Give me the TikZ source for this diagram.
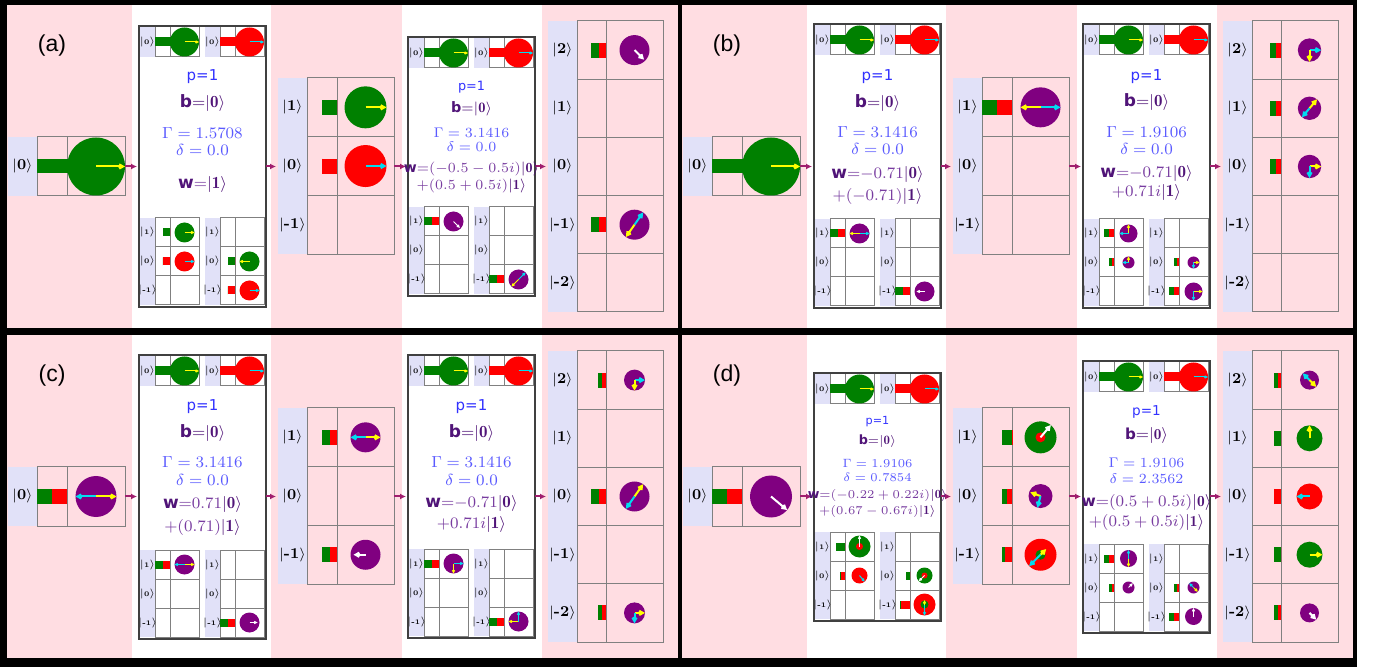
\documentclass[tikz,border=0pt]{standalone}
\usepackage{fontspec}
\setsansfont{DejaVu Sans}
\newfontfamily\panelfont{Liberation Sans}
\usetikzlibrary{arrows.meta}

\definecolor{bgpink}{RGB}{255,221,226}
\definecolor{lavfill}{RGB}{225,225,248}
\definecolor{cellgray}{RGB}{128,128,128}
\definecolor{qgreen}{RGB}{0,128,0}
\definecolor{qred}{RGB}{255,0,0}
\definecolor{qpur}{RGB}{128,0,128}
\definecolor{qyel}{RGB}{255,255,0}
\definecolor{qcya}{RGB}{0,220,240}
\definecolor{flowc}{RGB}{160,30,110}
\definecolor{pblue}{RGB}{50,50,255}
\definecolor{gblue}{RGB}{90,90,255}
\definecolor{qind}{RGB}{80,20,120}
\definecolor{wpur}{RGB}{120,60,160}

\newcommand{\minifont}{\fontsize{3.5}{4}\selectfont}
\newcommand{\bigfont}{\fontsize{7.5}{9}\selectfont}
\newcommand{\bsym}{{\sffamily\bfseries b}}
\newcommand{\wsym}{{\color{qind}\sffamily\bfseries w}}
\newcommand{\ketb}[1]{{\color{qind}|\mathbf{#1}\rangle}}

\tikzset{
  cellline/.style={draw=cellgray, line width=0.5pt},
  opframe/.style={draw=black!75, line width=1pt},
  flow/.style={-{Latex[length=3pt,width=3pt]}, draw=flowc, line width=1pt, shorten >=1pt},
  bneedle/.style={line width=1pt, -{Kite[length=3.5pt,width=3pt]}},
  mneedle/.style={line width=0.5pt, -{Kite[length=2pt,width=1.6pt]}},
  ptxt/.style={font={\fontsize{#1}{#1}\selectfont\sffamily}, text=pblue, inner sep=0pt},
  btxt/.style={font={\fontsize{#1}{#1}\selectfont}, text=qind, inner sep=0pt},
  gtxt/.style={font={\fontsize{#1}{#1}\selectfont}, text=gblue, inner sep=0pt},
  wtxt/.style={font={\fontsize{#1}{#1}\selectfont}, text=wpur, inner sep=0pt},
}

% x, y top, label w, cell w, cell w, row h, labels, font, name
\newcommand{\qtab}[9]{%
  \foreach \lab [count=\k] in {#7} {
    \fill[lavfill] (#1,{#2+(\k-1)*#6}) rectangle ++(#3,#6);
    \draw[cellline] ({#1+#3},{#2+(\k-1)*#6}) rectangle ++(#4,#6);
    \draw[cellline] ({#1+#3+#4},{#2+(\k-1)*#6}) rectangle ++(#5,#6);
    \node[font=#8, inner sep=0pt] (#9-l\k) at ({#1+#3/2},{#2+(\k-0.5)*#6}) {$|\textbf{\lab}\rangle$};
    \coordinate (#9-\k) at ({#1+#3+#4+#5/2},{#2+(\k-0.5)*#6});
  }}

% centre, half cell, green w, red w, bar h, disc r, disc colour
\newcommand{\qcell}[7]{%
  \fill[qgreen] (#1) ++({-#2-#3-#4},{-#5/2}) rectangle ++(#3,#5);
  \fill[qred] (#1) ++({-#2-#4},{-#5/2}) rectangle ++(#4,#5);
  \fill[#7] (#1) circle[radius=#6];}

\newcommand{\qneedles}[4]{%
  \foreach \ang/\len/\col in {#3} {\draw[#4,\col] (#1) -- ++({0-(\ang)}:{\len*#2});}}

\newcommand{\qop}[4]{%
  \fill[white] (#2,#3) rectangle ({#2+127},#4);
  \qtab{#2+1}{#3+1}{15}{15}{29}{30}{0}{\minifont}{#1-TL}
  \qtab{#2+66}{#3+1}{15}{15}{29}{30}{0}{\minifont}{#1-TR}
  \qcell{#1-TL-1}{0}{29.5}{0}{9}{14.5}{qgreen}
  \qneedles{#1-TL-1}{14.5}{0/1/qyel}{mneedle}
  \qcell{#1-TR-1}{0}{0}{29.5}{9}{14.5}{qred}
  \qneedles{#1-TR-1}{14.5}{0/1/qcya}{mneedle}
  \qtab{#2+1}{#4-89}{15}{15}{29}{29}{1,0,-1}{\minifont}{#1-L}
  \qtab{#2+66}{#4-89}{15}{15}{29}{29}{1,0,-1}{\minifont}{#1-R}
  \draw[opframe] (#2,#3) rectangle ({#2+127},#4);
  \coordinate (#1-w) at (#2,166.5);
  \coordinate (#1-e) at ({#2+127},166.5);}

\newcommand{\qpanel}[6]{%
  \fill[bgpink] (7,5) rectangle (132,328);
  \fill[white] (132,5) rectangle (271,328);
  \fill[bgpink] (271,5) rectangle (402,328);
  \fill[white] (402,5) rectangle (542,328);
  \fill[bgpink] (542,5) rectangle (678,328);
  \node[font=\panelfont\fontsize{11.5}{12}\selectfont, inner sep=0pt] (#1-tag) at (52,46) {#2};
  \qtab{8}{137}{29}{30}{58}{59}{0}{\bigfont}{#1-in}
  \qop{#1-o1}{139}{#3}{#4}
  \qtab{278}{78}{29}{30}{57}{58.7}{1,0,-1}{\bigfont}{#1-mid}
  \qop{#1-o2}{408}{#5}{#6}
  \qtab{548}{21}{29}{29}{57}{58.2}{2,1,0,-1,-2}{\bigfont}{#1-out}
  \coordinate (#1-in-e) at (125,166.5);
  \coordinate (#1-mid-w) at (278,166.5);
  \coordinate (#1-mid-e) at (394,166.5);
  \coordinate (#1-out-w) at (548,166.5);
  \draw[flow] (#1-in-e) -- (#1-o1-w);
  \draw[flow] (#1-o1-e) -- (#1-mid-w);
  \draw[flow] (#1-mid-e) -- (#1-o2-w);
  \draw[flow] (#1-o2-e) -- (#1-out-w);}

\begin{document}
\begin{tikzpicture}[x=0.5pt,y=-0.5pt]
  \useasboundingbox (0,0) rectangle (1380,667);
  \fill[white] (0,0) rectangle (1380,667);
  \fill[black] (0,0) rectangle (1357,667);

  % (a)
  \qpanel{a}{(a)}{26}{307}{37}{296}
  \qcell{a-in-1}{0}{59}{0}{14}{29}{qgreen}
  \qneedles{a-in-1}{29}{0/1/qyel}{bneedle}
  \qcell{a-o1-L-1}{14.5}{7.5}{0}{8}{10}{qgreen}
  \qneedles{a-o1-L-1}{10}{0/1/qyel}{mneedle}
  \qcell{a-o1-L-2}{14.5}{0}{7.5}{8}{10}{qred}
  \qneedles{a-o1-L-2}{10}{0/1/qcya}{mneedle}
  \qcell{a-o1-R-2}{14.5}{7.5}{0}{8}{10}{qgreen}
  \qneedles{a-o1-R-2}{10}{180/1/qyel}{mneedle}
  \qcell{a-o1-R-3}{14.5}{0}{7.5}{8}{10}{qred}
  \qneedles{a-o1-R-3}{10}{0/1/qcya}{mneedle}
  \qcell{a-mid-1}{28.5}{15}{0}{15}{21}{qgreen}
  \qneedles{a-mid-1}{21}{0/1/qyel}{bneedle}
  \qcell{a-mid-2}{28.5}{0}{15}{15}{21}{qred}
  \qneedles{a-mid-2}{21}{0/1/qcya}{bneedle}
  \qcell{a-o2-L-1}{14.5}{7.5}{7.5}{8}{10}{qpur}
  \qneedles{a-o2-L-1}{10}{-45/0.9/white}{mneedle}
  \qcell{a-o2-R-3}{14.5}{7.5}{7.5}{8}{10}{qpur}
  \qneedles{a-o2-R-3}{10}{45/1/qcya,225/1/qyel}{mneedle}
  \qcell{a-out-1}{28.5}{7.5}{7.5}{15}{15}{qpur}
  \qneedles{a-out-1}{15}{-45/0.9/white}{bneedle}
  \qcell{a-out-4}{28.5}{7.5}{7.5}{15}{15}{qpur}
  \qneedles{a-out-4}{15}{55/1/qcya,235/1/qyel}{bneedle}
  \node[ptxt=7.5] (a-p1) at (202.5,77) {p=1};
  \node[btxt=8.5] (a-b1) at (202.5,103) {\bsym${=}|\mathbf{0}\rangle$};
  \node[gtxt=8.2] (a-g1) at (202.5,133) {$\Gamma = 1.5708$};
  \node[gtxt=8.2] (a-d1) at (202.5,150) {$\delta = 0.0$};
  \node[wtxt=8.5] (a-w1) at (202.5,185) {\wsym${=}\ketb{1}$};
  \node[ptxt=6.4] (a-p2) at (471.5,87) {p=1};
  \node[btxt=7.2] (a-b2) at (471.5,109) {\bsym${=}|\mathbf{0}\rangle$};
  \node[gtxt=7] (a-g2) at (471.5,133) {$\Gamma = 3.1416$};
  \node[gtxt=7] (a-d2) at (471.5,147) {$\delta = 0.0$};
  \node[wtxt=7] (a-w2) at (471.5,169) {\wsym${=}(-0.5-0.5i)\ketb{0}$};
  \node[wtxt=7] (a-v2) at (471.5,186) {$+(0.5+0.5i)\ketb{1}$};

  % (b)
  \begin{scope}[shift={(675,0)}]
  \qpanel{b}{(b)}{24}{308}{24}{308}
  \qcell{b-in-1}{0}{59}{0}{14}{29}{qgreen}
  \qneedles{b-in-1}{29}{0/1/qyel}{bneedle}
  \qcell{b-o1-L-1}{14.5}{7.5}{7.5}{8}{10}{qpur}
  \qneedles{b-o1-L-1}{10}{180/1/qyel,0/1/qcya}{mneedle}
  \qcell{b-o1-R-3}{14.5}{7.5}{7.5}{8}{10}{qpur}
  \qneedles{b-o1-R-3}{10}{180/0.8/white}{mneedle}
  \qcell{b-mid-1}{28.5}{15}{15}{15}{20}{qpur}
  \qneedles{b-mid-1}{20}{180/1/qyel,0/1/qcya}{bneedle}
  \qcell{b-o2-L-1}{14.5}{5}{5}{8}{9}{qpur}
  \qneedles{b-o2-L-1}{9}{90/1/qyel,180/1/qcya}{mneedle}
  \qcell{b-o2-L-2}{14.5}{2.5}{2.5}{8}{6}{qpur}
  \qneedles{b-o2-L-2}{6}{90/1/qyel,180/1/qcya}{mneedle}
  \qcell{b-o2-R-2}{14.5}{2.5}{2.5}{8}{6}{qpur}
  \qneedles{b-o2-R-2}{6}{0/1/qyel,270/1/qcya}{mneedle}
  \qcell{b-o2-R-3}{14.5}{5}{5}{8}{9}{qpur}
  \qneedles{b-o2-R-3}{9}{0/1/qyel,270/1/qcya}{mneedle}
  \qcell{b-out-1}{28.5}{5.5}{5.5}{15}{11.7}{qpur}
  \qneedles{b-out-1}{11.7}{0/1/qcya,270/1/qyel}{bneedle}
  \qcell{b-out-2}{28.5}{5.5}{5.5}{15}{11.7}{qpur}
  \qneedles{b-out-2}{11.7}{50/1/qyel,230/1/qcya}{bneedle}
  \qcell{b-out-3}{28.5}{5.5}{5.5}{15}{11.7}{qpur}
  \qneedles{b-out-3}{11.7}{0/1/qyel,270/1/qcya}{bneedle}
  \node[ptxt=7.5] (b-p1) at (202.5,77) {p=1};
  \node[btxt=8.5] (b-b1) at (202.5,103) {\bsym${=}|\mathbf{0}\rangle$};
  \node[gtxt=8.2] (b-g1) at (202.5,132) {$\Gamma = 3.1416$};
  \node[gtxt=8.2] (b-d1) at (202.5,149) {$\delta = 0.0$};
  \node[wtxt=8.5] (b-w1) at (202.5,175) {\wsym${=}{-0.71}\ketb{0}$};
  \node[wtxt=8.5] (b-v1) at (202.5,197) {$+(-0.71)\ketb{1}$};
  \node[ptxt=7.5] (b-p2) at (471.5,77) {p=1};
  \node[btxt=8.5] (b-b2) at (471.5,102) {\bsym${=}|\mathbf{0}\rangle$};
  \node[gtxt=8.2] (b-g2) at (471.5,132) {$\Gamma = 1.9106$};
  \node[gtxt=8.2] (b-d2) at (471.5,149) {$\delta = 0.0$};
  \node[wtxt=8.5] (b-w2) at (471.5,174) {\wsym${=}{-0.71}\ketb{0}$};
  \node[wtxt=8.5] (b-v2) at (471.5,193) {$+0.71i\ketb{1}$};
  \end{scope}

  % (c)
  \begin{scope}[shift={(0,330)}]
  \qpanel{c}{(c)}{25}{309}{25}{308}
  \qcell{c-in-1}{29}{15}{15}{14}{20.5}{qpur}
  \qneedles{c-in-1}{20.5}{180/1/qcya,0/1/qyel}{bneedle}
  \qcell{c-o1-L-1}{14.5}{7.5}{7.5}{8}{10}{qpur}
  \qneedles{c-o1-L-1}{10}{180/1/qcya,0/1/qyel}{mneedle}
  \qcell{c-o1-R-3}{14.5}{7.5}{7.5}{8}{10}{qpur}
  \qneedles{c-o1-R-3}{10}{0/0.8/white}{mneedle}
  \qcell{c-mid-1}{28.5}{7.5}{7.5}{15}{15}{qpur}
  \qneedles{c-mid-1}{15}{180/1/qcya,0/1/qyel}{bneedle}
  \qcell{c-mid-3}{28.5}{7.5}{7.5}{15}{15}{qpur}
  \qneedles{c-mid-3}{15}{180/0.8/white}{bneedle}
  \qcell{c-o2-L-1}{14.5}{7.5}{7.5}{8}{10}{qpur}
  \qneedles{c-o2-L-1}{10}{0/1/qcya,270/1/qyel}{mneedle}
  \qcell{c-o2-R-3}{14.5}{7.5}{7.5}{8}{10}{qpur}
  \qneedles{c-o2-R-3}{10}{180/1/qyel,90/1/qcya}{mneedle}
  \qcell{c-out-1}{28.5}{4}{4}{15}{10.5}{qpur}
  \qneedles{c-out-1}{10.5}{0/1/qcya,270/1/qyel}{bneedle}
  \qcell{c-out-3}{28.5}{7.5}{7.5}{15}{15}{qpur}
  \qneedles{c-out-3}{15}{55/1/qyel,235/1/qcya}{bneedle}
  \qcell{c-out-5}{28.5}{4}{4}{15}{10.5}{qpur}
  \qneedles{c-out-5}{10.5}{0/1/qyel,270/1/qcya}{bneedle}
  \node[ptxt=7.5] (c-p1) at (202.5,77) {p=1};
  \node[btxt=8.5] (c-b1) at (202.5,103) {\bsym${=}|\mathbf{0}\rangle$};
  \node[gtxt=8.2] (c-g1) at (202.5,132) {$\Gamma = 3.1416$};
  \node[gtxt=8.2] (c-d1) at (202.5,150) {$\delta = 0.0$};
  \node[wtxt=8.5] (c-w1) at (202.5,175) {\wsym${=}0.71\ketb{0}$};
  \node[wtxt=8.5] (c-v1) at (202.5,197) {$+(0.71)\ketb{1}$};
  \node[ptxt=7.5] (c-p2) at (471.5,77) {p=1};
  \node[btxt=8.5] (c-b2) at (471.5,103) {\bsym${=}|\mathbf{0}\rangle$};
  \node[gtxt=8.2] (c-g2) at (471.5,132) {$\Gamma = 3.1416$};
  \node[gtxt=8.2] (c-d2) at (471.5,150) {$\delta = 0.0$};
  \node[wtxt=8.5] (c-w2) at (471.5,174) {\wsym${=}{-0.71}\ketb{0}$};
  \node[wtxt=8.5] (c-v2) at (471.5,194) {$+0.71i\ketb{1}$};
  \end{scope}

  % (d)
  \begin{scope}[shift={(675,330)}]
  \qpanel{d}{(d)}{43}{291}{31}{303}
  \qcell{d-in-1}{29}{15}{15}{14}{21}{qpur}
  \qneedles{d-in-1}{21}{-40/1/white}{bneedle}
  \qcell{d-o1-L-1}{14.5}{9}{0}{8}{11}{qgreen}
  \fill[qred] (d-o1-L-1) circle[radius=3.5];
  \qneedles{d-o1-L-1}{11}{90/1/white}{mneedle}
  \qcell{d-o1-L-2}{14.5}{1}{4}{8}{8}{qred}
  \qneedles{d-o1-L-2}{8}{-50/1/qcya}{mneedle}
  \qcell{d-o1-R-2}{14.5}{4.5}{0}{8}{8}{qgreen}
  \fill[qred] (d-o1-R-2) circle[radius=3];
  \qneedles{d-o1-R-2}{8}{225/1/white}{mneedle}
  \qcell{d-o1-R-3}{14.5}{1}{9}{8}{11}{qred}
  \fill[qgreen] (d-o1-R-3) circle[radius=4];
  \qneedles{d-o1-R-3}{11}{270/1/qcya,90/0.4/qyel}{mneedle}
  \qcell{d-mid-1}{28.5}{9.5}{0.5}{15}{16}{qgreen}
  \fill[qred] (d-mid-1) circle[radius=5];
  \qneedles{d-mid-1}{16}{50/1/white}{bneedle}
  \qcell{d-mid-2}{28.5}{5}{5}{15}{12}{qpur}
  \qneedles{d-mid-2}{12}{160/0.9/qyel,255/1/qcya}{bneedle}
  \qcell{d-mid-3}{28.5}{3}{7}{15}{16}{qred}
  \fill[qgreen] (d-mid-3) circle[radius=5];
  \qneedles{d-mid-3}{16}{45/0.5/qyel,225/1/qcya}{bneedle}
  \qcell{d-o2-L-1}{14.5}{5}{5}{8}{8.5}{qpur}
  \qneedles{d-o2-L-1}{8.5}{90/1/qcya,270/1/qyel}{mneedle}
  \qcell{d-o2-L-2}{14.5}{2.5}{2.5}{8}{6}{qpur}
  \qneedles{d-o2-L-2}{6}{45/1/white}{mneedle}
  \qcell{d-o2-R-2}{14.5}{2.5}{2.5}{8}{6}{qpur}
  \qneedles{d-o2-R-2}{6}{135/1/qcya,-45/1/qyel}{mneedle}
  \qcell{d-o2-R-3}{14.5}{5}{5}{8}{8.5}{qpur}
  \qneedles{d-o2-R-3}{8.5}{90/1/white}{mneedle}
  \qcell{d-out-1}{28.5}{3.5}{3.5}{15}{9.5}{qpur}
  \qneedles{d-out-1}{9.5}{135/1/qcya,-45/1/qyel}{bneedle}
  \qcell{d-out-2}{28.5}{7}{0}{15}{13}{qgreen}
  \qneedles{d-out-2}{13}{90/1/qyel}{bneedle}
  \qcell{d-out-3}{28.5}{0}{7}{15}{13}{qred}
  \qneedles{d-out-3}{13}{180/1/qcya}{bneedle}
  \qcell{d-out-4}{28.5}{7}{0}{15}{13}{qgreen}
  \qneedles{d-out-4}{13}{0/1/qyel}{bneedle}
  \qcell{d-out-5}{28.5}{3.5}{3.5}{15}{9.5}{qpur}
  \qneedles{d-out-5}{9.5}{-45/1/white}{bneedle}
  \node[ptxt=5.6] (d-p1) at (202.5,92) {p=1};
  \node[btxt=6.4] (d-b1) at (202.5,111) {\bsym${=}|\mathbf{0}\rangle$};
  \node[gtxt=6.2] (d-g1) at (202.5,133) {$\Gamma = 1.9106$};
  \node[gtxt=6.2] (d-d1) at (202.5,147) {$\delta = 0.7854$};
  \node[wtxt=6.3] (d-w1) at (202.5,166) {\wsym${=}(-0.22+0.22i)\ketb{0}$};
  \node[wtxt=6.3] (d-v1) at (202.5,182) {$+(0.67-0.67i)\ketb{1}$};
  \node[ptxt=6.8] (d-p2) at (471.5,82) {p=1};
  \node[btxt=7.6] (d-b2) at (471.5,106) {\bsym${=}|\mathbf{0}\rangle$};
  \node[gtxt=7.3] (d-g2) at (471.5,133) {$\Gamma = 1.9106$};
  \node[gtxt=7.3] (d-d2) at (471.5,149) {$\delta = 2.3562$};
  \node[wtxt=7.7] (d-w2) at (471.5,172) {\wsym${=}(0.5+0.5i)\ketb{0}$};
  \node[wtxt=7.7] (d-v2) at (471.5,192) {$+(0.5+0.5i)\ketb{1}$};
  \end{scope}
\end{tikzpicture}
\end{document}
